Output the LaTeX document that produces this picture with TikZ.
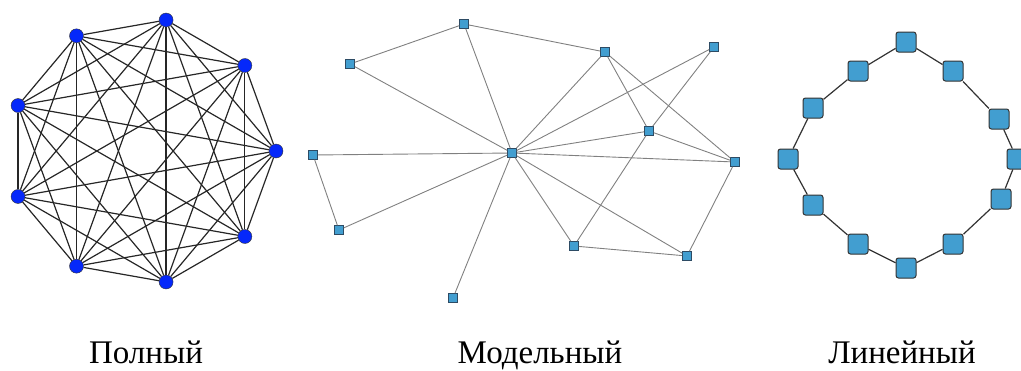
\documentclass[tikz,border=0pt]{standalone}
\usepackage{fontspec}
\setmainfont{Liberation Serif}
\usetikzlibrary{calc}
\definecolor{fullblue}{RGB}{5,40,250}
\definecolor{sqblue}{RGB}{66,158,208}
\definecolor{sqedge}{RGB}{45,75,100}
\tikzset{
  fullnode/.style={circle,draw=black!80,fill=fullblue,inner sep=0pt,minimum size=14pt},
  fulledge/.style={black!85,line width=1.2pt},
  modnode/.style={rectangle,draw=sqedge,fill=sqblue,inner sep=0pt,minimum size=9pt,line width=0.6pt},
  modedge/.style={black!50,line width=0.9pt},
  ringnode/.style={rectangle,rounded corners=2.5pt,draw=black!80,fill=sqblue,inner sep=0pt,minimum size=20pt,line width=1pt},
  ringedge/.style={black!80,line width=1.2pt},
  caption/.style={anchor=base,inner sep=0pt,font=\fontsize{33}{38}\selectfont}
}
\begin{document}
\begin{tikzpicture}[x=1pt,y=-1pt]
  \useasboundingbox (0,0) rectangle (1021,370);

  %% complete graph
  \foreach \i in {1,...,9} \node[fullnode] (k\i) at ($(143,151)+({(\i-1)*40}:133)$) {};
  \foreach \i in {1,...,8} {
    \pgfmathtruncatemacro\nxt{\i+1}
    \foreach \j in {\nxt,...,9} \draw[fulledge] (k\i) -- (k\j);
  }

  %% model graph
  \node[modnode] (ma) at (464,24) {};
  \node[modnode] (mb) at (350,64) {};
  \node[modnode] (mc) at (605,52) {};
  \node[modnode] (md) at (714,47) {};
  \node[modnode] (me) at (649,131) {};
  \node[modnode] (mf) at (512,153) {};
  \node[modnode] (mg) at (313,155) {};
  \node[modnode] (mh) at (735,162) {};
  \node[modnode] (mi) at (339,230) {};
  \node[modnode] (mj) at (574,246) {};
  \node[modnode] (mk) at (687,256) {};
  \node[modnode] (ml) at (453,298) {};
  \foreach \a/\b in {mb/ma, ma/mc, mb/mf, ma/mf, mc/mf, md/mf, md/me, me/mj, mc/me, mc/mh,
      me/mf, me/mh, mf/mh, mf/mg, mg/mi, mi/mf, mf/ml, mf/mj, mf/mk, mj/mk, mk/mh}
    \draw[modedge] (\a) -- (\b);

  %% ring
  \foreach \p [count=\n] in {(906,42),(953,71),(999,119),(1017,159),(1001,199),(953,244),
      (906,268),(858,244),(813,205),(788,159),(813,108),(858,71)}
    \node[ringnode] (r\n) at \p {};
  \foreach \i in {1,...,12} {
    \pgfmathtruncatemacro\nxt{mod(\i,12)+1}
    \draw[ringedge] (r\i) -- (r\nxt);
  }

  %% captions
  \node[caption] (capfull) at (146,363) {Полный};
  \node[caption] (capmod) at (540,363) {Модельный};
  \node[caption] (capring) at (902,363) {Линейный};
\end{tikzpicture}
\end{document}
